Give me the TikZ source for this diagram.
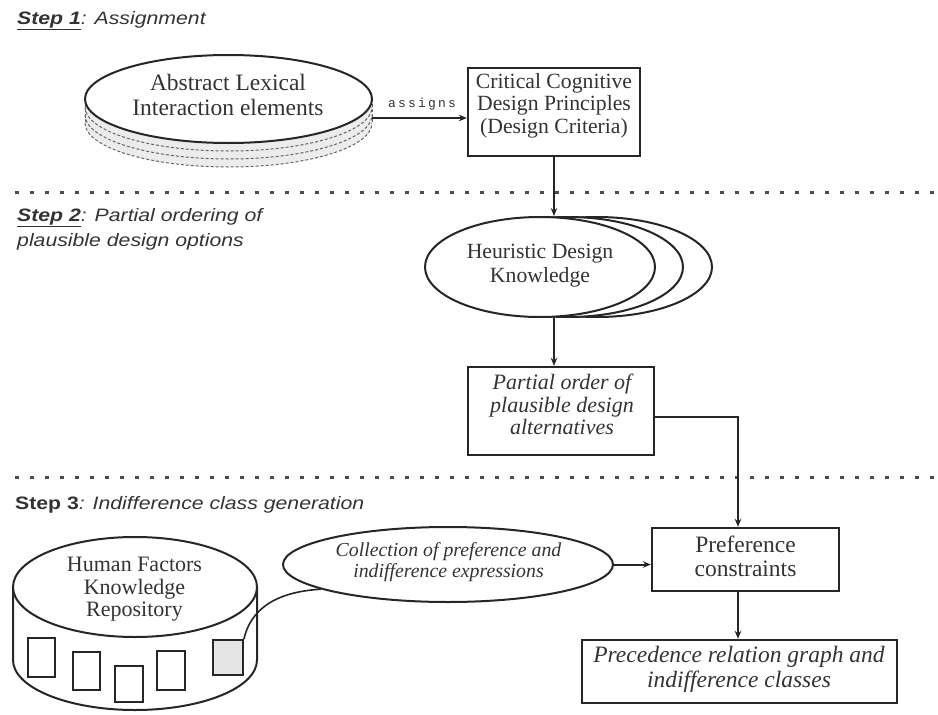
\documentclass[tikz,border=0pt]{standalone}
\usepackage{fontspec}
\setmainfont{Liberation Serif}
\newfontfamily\stepf[FakeStretch=1.18]{Liberation Sans}
\newfontfamily\monof[LetterSpace=17]{Liberation Mono}
\usetikzlibrary{arrows.meta,shapes.geometric}
\newcommand{\fsz}[2]{\fontsize{#1}{#2}\selectfont}
\begin{document}
\begin{tikzpicture}[x=1pt,y=-1pt,
  box/.style={draw, line width=2.3pt, black!85, rectangle, inner sep=0pt, fill=white},
  ell/.style={draw, ellipse, line width=2pt, black!85, inner sep=0pt, fill=white},
  txt/.style={align=center, inner sep=0pt, text=black!80},
  arr/.style={line width=2pt, black!85, -{Stealth[length=8pt,width=6.5pt]}},
  sep/.style={line width=2.4pt, black!70, dash pattern=on 4pt off 11pt},
  stack/.style={line width=1pt, black!60, dash pattern=on 3pt off 2pt},
  doc/.style={draw, line width=1.8pt, black!85, rectangle, inner sep=0pt, fill=white},
  steplbl/.style={anchor=base west, inner sep=0pt, text=black!80, font=\stepf\fsz{18}{22}}
]
\useasboundingbox (0,0) rectangle (938,715);

% separators
\draw[sep] (15,192.5) -- (938,192.5);
\draw[sep] (15,477.5) -- (938,477.5);

% step labels
\node[steplbl] (s1) at (17,24.5) {\textbf{\textit{\underline{Step 1}}}\textit{: Assignment}};
\node[steplbl] (s2a) at (17,221) {\textbf{\textit{\underline{Step 2}}}\textit{: Partial ordering of}};
\node[steplbl] (s2b) at (17,246) {\textit{plausible design options}};
\node[steplbl] (s3) at (15,509) {\textbf{Step 3}\textit{: Indifference class generation}};

% stacked disk (Abstract Lexical Interaction elements)
\fill[gray!15] (85,99) -- (85,123) arc[start angle=180,end angle=360,x radius=143.5pt,y radius=44pt] -- (372,99) -- cycle;
\draw[stack] (85,107) arc[start angle=180,end angle=360,x radius=143.5pt,y radius=44pt];
\draw[stack] (85,115) arc[start angle=180,end angle=360,x radius=143.5pt,y radius=44pt];
\draw[stack] (85,123) arc[start angle=180,end angle=360,x radius=143.5pt,y radius=44pt];
\draw[stack] (85,99) -- (85,123);
\draw[stack] (372,99) -- (372,123);
\node[ell, minimum width=287pt, minimum height=88pt] (abs) at (228.5,99) {};
\node[txt, font=\fsz{23.5}{25}] (absT) at (228,94.5) {Abstract Lexical\\Interaction elements};
\coordinate (absR) at (372,118);

% Critical box
\node[box, minimum width=172pt, minimum height=88pt] (crit) at (554,112) {};
\node[txt, font=\fsz{21.7}{22.5}] (critT) at (554,105.5) {Critical Cognitive\\Design Principles\\(Design Criteria)};
\draw[arr] (absR) -- (absR -| crit.west);
\node[txt, font=\monof\fsz{13}{14}] (assigns) at (422,104) {assigns};

% Heuristic ellipses
\node[ell, minimum width=230pt, minimum height=100pt] (heurB) at (597,267) {};
\node[ell, minimum width=230pt, minimum height=100pt] (heurM) at (568,267) {};
\node[ell, minimum width=230pt, minimum height=100pt] (heur) at (540,267) {};
\node[txt, font=\fsz{21.7}{24}] (heurT) at (540,266) {Heuristic Design\\Knowledge};
\draw[arr] (crit.south) -- (crit.south |- heur.north);

% Partial order box
\node[box, minimum width=186pt, minimum height=88pt] (part) at (561,411) {};
\node[txt, font=\itshape\fsz{22}{22.5}] (partT) at (562,404.5) {Partial order of\\plausible design\\alternatives};
\draw[arr] (crit.south |- heur.south) -- (crit.south |- part.north);

% Preference box
\node[box, minimum width=187pt, minimum height=63pt] (pref) at (745.5,559.5) {};
\node[txt, font=\fsz{23.5}{24}] (prefT) at (745.5,556) {Preference\\constraints};
\draw[arr] ([yshift=-6pt]part.east) -| ([xshift=-7.5pt]pref.north);

% Precedence box
\node[box, minimum width=315pt, minimum height=63pt] (prec) at (739.5,671.5) {};
\node[txt, font=\itshape\fsz{23.5}{25}] (precT) at (739,669.5) {Precedence relation graph and\\indifference classes};
\draw[arr] ([xshift=-7.5pt]pref.south) -- ([xshift=-7.5pt]pref.south |- prec.north);

% Collection ellipse
\node[ell, minimum width=330pt, minimum height=75pt] (coll) at (448,564.5) {};
\node[txt, font=\itshape\fsz{19.8}{21}] (collT) at (448.5,562.5) {Collection of preference and\\indifference expressions};
\draw[arr] (coll.east) -- (coll.east -| pref.west);

% Repository cylinder
\draw[line width=2pt, black!85, fill=white] (13,587) -- (13,660) arc[start angle=180,end angle=360,x radius=122pt,y radius=50pt] -- (257,587);
\node[ell, minimum width=244pt, minimum height=100pt] (repo) at (135,587) {};
\node[txt, font=\fsz{22}{22.5}] (repoT) at (134.5,589.5) {Human Factors\\Knowledge\\Repository};
\node[doc, minimum width=27pt, minimum height=39pt] (r1) at (41.5,657.5) {};
\node[doc, minimum width=27pt, minimum height=38pt] (r2) at (86.5,671) {};
\node[doc, minimum width=28pt, minimum height=36pt] (r3) at (129,684) {};
\node[doc, minimum width=28pt, minimum height=39pt] (r4) at (171,670.5) {};
\node[doc, minimum width=30pt, minimum height=35pt, fill=gray!20] (r5) at (228,657.5) {};
\draw[line width=1.6pt, black!85] (r5.north east) .. controls (250,612) and (272,592) .. (coll.191);
\end{tikzpicture}
\end{document}
